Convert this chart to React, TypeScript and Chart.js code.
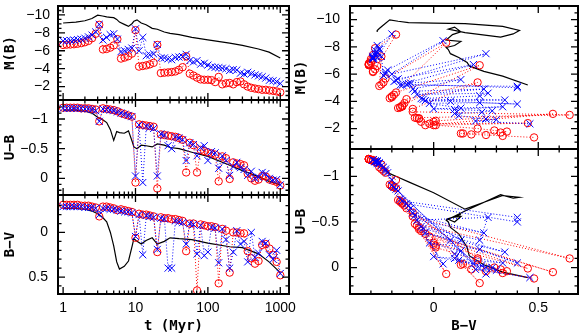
import React, { useEffect, useRef } from "react";
import { Chart, registerables } from "chart.js";

Chart.register(...registerables);

// ---------- data ----------
// ages of the model points (Myr)
const T = [
  1, 1.12, 1.26, 1.41, 1.58, 1.78, 2, 2.24, 2.51, 2.82,
  3.16, 3.55, 3.98, 4.47, 5.01, 5.62, 6.31, 7.08, 7.94, 8.91,
  10, 11.2, 12.6, 14.1, 15.8, 17.8, 20, 22.4, 25.1, 28.2,
  31.6, 35.5, 39.8, 44.7, 50.1, 56.2, 63.1, 70.8, 79.4, 89.1,
  100, 112, 126, 141, 158, 178, 200, 224, 251, 282,
  316, 355, 398, 447, 501, 562, 631, 708, 794, 891,
  1000,
];

// red circles
const RED_MB = [
  -6.65, -6.68, -6.7, -6.73, -6.78, -6.85, -6.95, -7.1, -7.4, -7.9,
  -8.9, -6.15, -6.2, -6.35, -6.6, -7.3, -5.13, -5.24, -5.39, -5.68,
  -8.3, -4.23, -4.3, -4.37, -4.48, -4.65, -6.65, -3.51, -3.55, -3.58,
  -3.62, -3.69, -3.87, -4.16, -5.39, -3.44, -3.23, -3.0, -2.8, -2.76,
  -2.76, -2.72, -2.5, -3.08, -2.25, -2.36, -2.4, -2.25, -2.5, -2.57,
  -2.25, -2.0, -1.86, -1.78, -1.71, -1.64, -1.64, -1.57, -1.53, -1.46,
  -1.35,
];
const RED_UB = [
  -1.19, -1.19, -1.19, -1.19, -1.19, -1.18, -1.18, -1.18, -1.17, -1.16,
  -0.96, -1.18, -1.17, -1.16, -1.15, -1.13, -1.1, -1.08, -1.06, -1.04,
  0.07, -0.91, -0.9, -0.89, -0.88, -0.87, 0.17, -0.74, -0.73, -0.72,
  -0.71, -0.7, -0.68, -0.65, -0.1, -0.6, -0.56, -0.1, -0.48, -0.46,
  -0.44, -0.42, -0.4, 0.05, -0.37, -0.34, 0.01, -0.27, -0.25, -0.24,
  -0.22, -0.08, 0.0, 0.04, 0.02, -0.04, -0.03, 0.02, 0.04, 0.06,
  0.12,
];
const RED_BV = [
  -0.31, -0.31, -0.31, -0.31, -0.31, -0.3, -0.3, -0.3, -0.29, -0.28,
  -0.18, -0.29, -0.29, -0.28, -0.27, -0.25, -0.26, -0.25, -0.24, -0.23,
  0.06, -0.21, -0.2, -0.2, -0.19, -0.18, 0.22, -0.17, -0.16, -0.16,
  -0.15, -0.15, -0.14, -0.13, 0.21, -0.1, -0.1, 0.65, -0.09, -0.08,
  -0.07, -0.07, -0.06, 0.57, -0.04, -0.02, 0.45, 0.0, 0.0, 0.01,
  0.01, 0.21, 0.29, 0.35, 0.32, 0.14, 0.13, 0.18, 0.25, 0.33,
  0.48,
];

// blue crosses
const BLUE_MB = [
  -7.1, -7.12, -7.15, -7.2, -7.25, -7.3, -7.4, -7.55, -7.75, -8.1,
  -8.95, -7.2, -7.5, -7.8, -7.9, -7.3, -5.9, -6.0, -6.15, -6.3,
  -8.45, -6.0, -7.5, -5.45, -5.55, -5.65, -6.7, -5.2, -5.2, -5.1,
  -5.0, -5.25, -5.3, -5.35, -5.6, -4.9, -4.75, -4.9, -4.5, -4.6,
  -4.4, -4.2, -4.15, -4.1, -4.05, -4.0, -3.8, -3.9, -3.85, -3.5,
  -3.4, -3.6, -3.45, -3.3, -3.2, -3.1, -2.95, -2.7, -2.65, -2.55,
  -2.35,
];
const BLUE_UB = [
  -1.18, -1.18, -1.18, -1.18, -1.18, -1.18, -1.17, -1.17, -1.16, -1.14,
  -0.96, -1.17, -1.16, -1.15, -1.14, -1.12, -1.1, -1.08, -1.06, -1.04,
  -0.04, -0.9, 0.07, -0.88, -0.86, -0.84, -0.04, -0.75, -0.73, -0.55,
  -0.5, -0.7, -0.68, -0.65, -0.3, -0.6, -0.57, -0.38, -0.52, -0.55,
  -0.3, -0.45, -0.43, -0.17, -0.38, -0.3, -0.05, -0.2, -0.27, -0.18,
  -0.15, -0.05, -0.12, 0.0, -0.02, -0.1, -0.08, 0.0, 0.03, 0.02,
  0.11,
];
const BLUE_BV = [
  -0.29, -0.29, -0.29, -0.29, -0.29, -0.29, -0.28, -0.28, -0.28, -0.27,
  -0.2, -0.27, -0.27, -0.26, -0.26, -0.25, -0.24, -0.23, -0.23, -0.22,
  0.045, -0.2, 0.25, -0.19, -0.18, -0.17, 0.19, -0.16, -0.15, 0.4,
  0.4, -0.13, -0.12, -0.11, 0.13, -0.1, -0.09, 0.24, -0.08, 0.26,
  0.22, -0.06, -0.05, 0.34, -0.04, 0.08, 0.4, 0.22, -0.02, 0.13,
  0.1, 0.33, 0.0, 0.28, 0.23, 0.1, 0.12, 0.25, 0.3, 0.2,
  0.46,
];

// black continuous model
const BLK_T = [1, 1.5, 2, 2.5, 3, 3.5, 4, 4.5, 5, 5.5, 6, 7, 8, 9, 9.5, 10.5, 12, 14, 17, 20, 25, 30, 40, 60, 100, 200, 300, 500, 700, 1000];
const BLK_MB = [-9.1, -9.2, -9.35, -9.6, -9.98, -9.88, -9.78, -9.74, -9.7, -9.5, -9.2, -8.95, -8.72, -9.05, -9.3, -9.45, -9.1, -8.9, -8.5, -8.4, -8.1, -7.95, -7.8, -7.5, -7.22, -6.85, -6.6, -6.2, -5.85, -5.2];
const BLK_BV = [-0.27, -0.27, -0.26, -0.24, -0.21, -0.17, -0.12, 0.0, 0.15, 0.33, 0.41, 0.38, 0.32, 0.15, 0.07, 0.1, 0.13, 0.09, 0.06, 0.13, 0.1, 0.06, 0.07, 0.08, 0.12, 0.16, 0.17, 0.24, 0.33, 0.45];
const BLK_UB = [-1.15, -1.15, -1.13, -1.1, -1.03, -0.99, -0.94, -0.82, -0.64, -0.79, -0.77, -0.76, -0.8, -0.62, -0.53, -0.5, -0.56, -0.55, -0.53, -0.58, -0.56, -0.52, -0.5, -0.44, -0.37, -0.22, -0.13, -0.03, 0.05, 0.11];

// tick labels
const T_LABELS = [1, 10, 100, 1000];
const MB_LABELS = [-10, -8, -6, -4, -2];
const UB_LABELS = [-1, -0.5, 0];
const BV_LABELS = [0, 0.5];

// ---------- styling ----------
const W = 584;
const H = 336;
const RED = "#ff0000";
const BLUE = "#0000ff";
const TICK_FONT = { family: "'Liberation Sans', Arial, sans-serif", size: 14 };
const TITLE_FONT = { family: "'DejaVu Sans Mono', monospace", size: 14, weight: "bold" as const, lineHeight: 1.2 };

function fmt(v: number): string {
  const s = String(Math.abs(v));
  return v < 0 ? "\u2212" + s : s;
}

function minors(from: number, to: number, div: number, skip: number[]): number[] {
  const out: number[] = [];
  for (let k = from; k <= to; k++) {
    const v = k / div;
    if (!skip.some((s) => Math.abs(s - v) < 1e-9)) out.push(v);
  }
  return out;
}

const LOG_MINOR: number[] = [];
[1, 10, 100].forEach((d) => {
  for (let k = 2; k <= 9; k++) LOG_MINOR.push(d * k);
});
const MB_MINOR = minors(-22, -1, 2, MB_LABELS);
const UB_MINOR = minors(-13, 2, 10, UB_LABELS);
const BV_MINOR = minors(-4, 6, 10, BV_LABELS);

const frameTicks = {
  id: "frameTicks",
  afterDatasetsDraw(chart: any, _args: any, opts: any) {
    const { ctx, chartArea: a } = chart;
    const xs = chart.scales.x;
    const ys = chart.scales.y;
    ctx.save();
    ctx.strokeStyle = "#000";
    ctx.lineWidth = 1.3;
    ctx.beginPath();
    const xt = (vals: number[], len: number) => {
      vals.forEach((v) => {
        const p = xs.getPixelForValue(v);
        if (p < a.left + 2 || p > a.right - 2) return;
        ctx.moveTo(p, a.bottom);
        ctx.lineTo(p, a.bottom - len);
        ctx.moveTo(p, a.top);
        ctx.lineTo(p, a.top + len);
      });
    };
    const yt = (vals: number[], len: number) => {
      vals.forEach((v) => {
        const p = ys.getPixelForValue(v);
        if (p < a.top + 2 || p > a.bottom - 2) return;
        ctx.moveTo(a.left, p);
        ctx.lineTo(a.left + len, p);
        ctx.moveTo(a.right, p);
        ctx.lineTo(a.right - len, p);
      });
    };
    xt(opts.xMajor, 7);
    xt(opts.xMinor, 3.5);
    yt(opts.yMajor, 7);
    yt(opts.yMinor, 3.5);
    ctx.stroke();
    ctx.lineWidth = 2;
    ctx.strokeRect(a.left, a.top, a.right - a.left, a.bottom - a.top);
    ctx.restore();
  },
};

function pts(xs: number[], ys: number[]) {
  return xs.map((x, i) => ({ x, y: ys[i] }));
}

function markerSets(redX: number[], redY: number[], blueX: number[], blueY: number[], blkX: number[], blkY: number[]) {
  return [
    {
      data: pts(blueX, blueY),
      showLine: true,
      borderColor: BLUE,
      borderWidth: 1,
      borderDash: [1, 2],
      pointStyle: "crossRot",
      pointRadius: 5,
      pointBorderColor: BLUE,
      pointBorderWidth: 1,
      backgroundColor: "rgba(0,0,0,0)",
    },
    {
      data: pts(redX, redY),
      showLine: true,
      borderColor: RED,
      borderWidth: 1,
      borderDash: [1, 2],
      pointStyle: "circle",
      pointRadius: 3.7,
      pointBorderColor: RED,
      pointBorderWidth: 1,
      backgroundColor: "rgba(0,0,0,0)",
      pointBackgroundColor: "rgba(0,0,0,0)",
    },
    {
      data: pts(blkX, blkY),
      showLine: true,
      borderColor: "#000",
      borderWidth: 1.2,
      pointRadius: 0,
    },
  ];
}

type Spec = {
  area: [number, number, number, number];
  logX: boolean;
  xMin: number;
  xMax: number;
  xLabels: number[] | null;
  xTitle: string;
  xMinor: number[];
  yMin: number;
  yMax: number;
  yLabels: number[];
  yMinor: number[];
  yTitle: string;
  titlePad: number;
  labelPad: number;
  datasets: any[];
};

function buildConfig(s: Spec): any {
  const [l, t, r, b] = s.area;
  const YW = 58;
  const XH = 42;
  const showX = !!s.xLabels;
  return {
    type: "scatter",
    data: { datasets: s.datasets },
    plugins: [frameTicks],
    options: {
      responsive: false,
      animation: false,
      devicePixelRatio: 1,
      events: [],
      layout: {
        padding: { left: l - YW, top: t, right: W - r, bottom: showX ? H - b - XH : H - b },
      },
      plugins: {
        legend: { display: false },
        tooltip: { enabled: false },
        frameTicks: {
          xMajor: s.logX ? T_LABELS : BV_LABELS,
          xMinor: s.xMinor,
          yMajor: s.yLabels,
          yMinor: s.yMinor,
        },
      },
      scales: {
        x: {
          type: s.logX ? "logarithmic" : "linear",
          min: s.xMin,
          max: s.xMax,
          display: showX,
          grid: { display: false, drawTicks: false },
          border: { display: false },
          afterBuildTicks: (ax: any) => {
            ax.ticks = (s.xLabels || []).map((v) => ({ value: v }));
          },
          afterFit: (ax: any) => {
            ax.height = showX ? XH : 0;
            ax.paddingLeft = 0;
            ax.paddingRight = 0;
          },
          ticks: {
            display: showX,
            font: TICK_FONT,
            color: "#000",
            padding: 6,
            autoSkip: false,
            maxRotation: 0,
            callback: (v: any) => fmt(Number(v)),
          },
          title: {
            display: showX,
            text: s.xTitle,
            font: TITLE_FONT,
            color: "#000",
            padding: { top: 0, bottom: 1 },
          },
        },
        y: {
          type: "linear",
          min: s.yMin,
          max: s.yMax,
          reverse: true,
          grid: { display: false, drawTicks: false },
          border: { display: false },
          afterBuildTicks: (ax: any) => {
            ax.ticks = s.yLabels.map((v) => ({ value: v }));
          },
          afterFit: (ax: any) => {
            ax.width = YW;
            ax.paddingTop = 0;
            ax.paddingBottom = 0;
          },
          ticks: {
            font: TICK_FONT,
            color: "#000",
            padding: s.labelPad,
            autoSkip: false,
            callback: (v: any) => fmt(Number(v)),
          },
          title: {
            display: true,
            text: s.yTitle,
            font: TITLE_FONT,
            color: "#000",
            padding: { top: s.titlePad, bottom: 0 },
          },
        },
      },
    },
  };
}

const SPECS: Spec[] = [
  {
    area: [58, 2, 289, 100], logX: true, xMin: 0.85, xMax: 1320, xLabels: null, xTitle: "", xMinor: LOG_MINOR,
    yMin: -11, yMax: -0.5, yLabels: MB_LABELS, yMinor: MB_MINOR, yTitle: "M(B)", titlePad: 2, labelPad: 8,
    datasets: markerSets(T, RED_MB, T, BLUE_MB, BLK_T, BLK_MB),
  },
  {
    area: [58, 100, 289, 195], logX: true, xMin: 0.85, xMax: 1320, xLabels: null, xTitle: "", xMinor: LOG_MINOR,
    yMin: -1.32, yMax: 0.28, yLabels: UB_LABELS, yMinor: UB_MINOR, yTitle: "U\u2212B", titlePad: 2, labelPad: 10,
    datasets: markerSets(T, RED_UB, T, BLUE_UB, BLK_T, BLK_UB),
  },
  {
    area: [58, 195, 289, 294], logX: true, xMin: 0.85, xMax: 1320, xLabels: T_LABELS, xTitle: "t (Myr)", xMinor: LOG_MINOR,
    yMin: -0.42, yMax: 0.69, yLabels: BV_LABELS, yMinor: BV_MINOR, yTitle: "B\u2212V", titlePad: 2, labelPad: 10,
    datasets: markerSets(T, RED_BV, T, BLUE_BV, BLK_T, BLK_BV),
  },
  {
    area: [350, 2, 582, 149], logX: false, xMin: -0.4, xMax: 0.69, xLabels: null, xTitle: "", xMinor: BV_MINOR,
    yMin: -11, yMax: -0.5, yLabels: MB_LABELS, yMinor: MB_MINOR, yTitle: "M(B)", titlePad: 1, labelPad: 10,
    datasets: markerSets(RED_BV, RED_MB, BLUE_BV, BLUE_MB, BLK_BV, BLK_MB),
  },
  {
    area: [350, 149, 582, 294], logX: false, xMin: -0.4, xMax: 0.69, xLabels: BV_LABELS, xTitle: "B\u2212V", xMinor: BV_MINOR,
    yMin: -1.3, yMax: 0.29, yLabels: UB_LABELS, yMinor: UB_MINOR, yTitle: "U\u2212B", titlePad: 1, labelPad: 11,
    datasets: markerSets(RED_BV, RED_UB, BLUE_BV, BLUE_UB, BLK_BV, BLK_UB),
  },
];

function Panel({ spec }: { spec: Spec }) {
  const ref = useRef<HTMLCanvasElement | null>(null);
  useEffect(() => {
    if (!ref.current) return;
    const chart = new Chart(ref.current, buildConfig(spec));
    return () => chart.destroy();
  }, [spec]);
  return (
    <canvas
      ref={ref}
      width={W}
      height={H}
      style={{ position: "absolute", left: 0, top: 0, width: W, height: H }}
    />
  );
}

export default function App() {
  return (
    <div style={{ position: "fixed", left: 0, top: 0, width: W, height: H, background: "#fff", overflow: "hidden" }}>
      {SPECS.map((s, i) => (
        <Panel key={i} spec={s} />
      ))}
    </div>
  );
}
